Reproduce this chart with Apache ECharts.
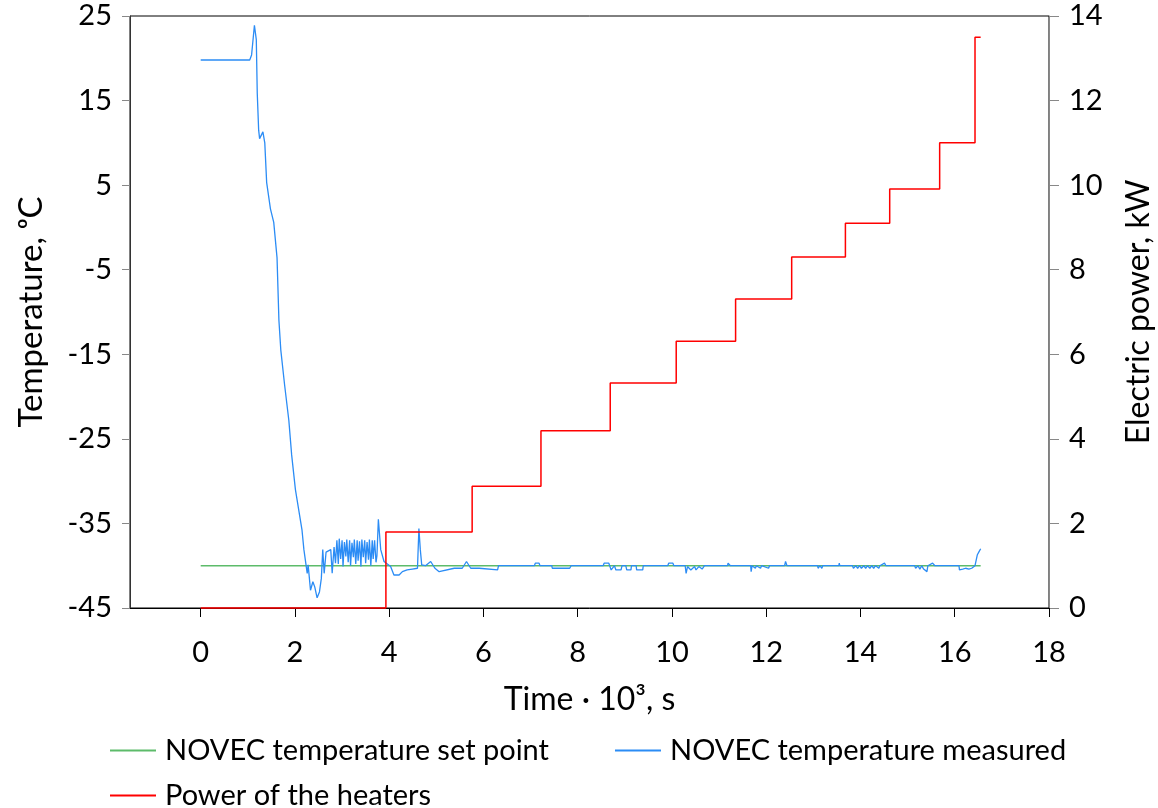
<!DOCTYPE html>
<html>
<head>
<meta charset="utf-8">
<script src="https://cdn.jsdelivr.net/npm/echarts@6/dist/echarts.min.js"></script>
<style>html,body{margin:0;padding:0;background:#fff}#c{width:1158px;height:808px}</style>
</head>
<body>
<div id="c"></div>
<script>
// ---- data ----
const xTicks = [0, 2, 4, 6, 8, 10, 12, 14, 16, 18];
const tempTicks = [-45, -35, -25, -15, -5, 5, 15, 25];

const setTime = [0, 16.55];
const setTemp = [-40, -40];

const measTime = [0, 1.04, 1.08, 1.14, 1.18, 1.20, 1.23, 1.25, 1.32, 1.36, 1.40, 1.48, 1.55, 1.62, 1.66, 1.70, 1.78, 1.87, 1.93, 2.01,
  2.08, 2.15, 2.19, 2.22, 2.26, 2.28, 2.33, 2.38, 2.42, 2.47, 2.52, 2.56, 2.59, 2.62, 2.66, 2.76, 2.79, 2.83, 2.86,
  2.89, 2.92, 2.94, 2.97, 3.00, 3.02, 3.05, 3.08, 3.10, 3.13, 3.16, 3.18, 3.21, 3.24, 3.26, 3.29, 3.32, 3.34, 3.37, 3.40,
  3.42, 3.45, 3.48, 3.50, 3.53, 3.56, 3.58, 3.61, 3.64, 3.66, 3.69, 3.72, 3.74, 3.77,
  3.82, 3.89, 3.96, 4.03, 4.10, 4.21, 4.28, 4.38, 4.49, 4.60, 4.62, 4.63, 4.66, 4.69, 4.77, 4.88, 4.97, 5.06, 5.38, 5.55,
  5.64, 5.73, 5.91, 6.30, 6.32, 7.08, 7.10, 7.18, 7.20, 7.45, 7.46, 7.83, 7.86, 8.54, 8.56, 8.66, 8.71, 8.78, 8.81, 8.92,
  8.94, 9.02, 9.04, 9.13, 9.14, 9.24, 9.25, 9.38, 9.39, 9.91, 9.93, 10.02, 10.04, 10.28, 10.30, 10.33, 10.40, 10.48, 10.51, 10.57,
  10.60, 10.64, 10.69, 11.18, 11.19, 11.22, 11.24, 11.67, 11.68, 11.70, 11.77, 11.79, 11.88, 11.90, 12.05, 12.07, 12.39, 12.41, 12.44,
  13.09, 13.10, 13.14, 13.18, 13.20, 13.54, 13.55, 13.56, 13.83, 13.85, 13.90, 13.94, 13.98, 14.02, 14.07, 14.11, 14.15, 14.20,
  14.24, 14.28, 14.32, 14.39, 14.41, 14.51, 14.54, 15.15, 15.17, 15.22, 15.26, 15.30, 15.34, 15.38, 15.41, 15.43, 15.53, 15.58,
  16.09, 16.10, 16.13, 16.17, 16.23, 16.30, 16.36, 16.43, 16.48, 16.51, 16.53, 16.55];
const measTemp = [19.8, 19.8, 20.4, 23.9, 22.2, 15.9, 11.5, 10.5, 11.3, 10.0, 5.3, 2.2, 0.6, -3.6, -11.0, -14.5, -18.6, -22.8, -26.9, -31.0,
  -33.4, -35.8, -38.1, -37.9, -40.9, -39.9, -42.9, -41.9, -42.5, -43.8, -43.1, -41.5, -38.1, -40.9, -38.4, -38.1, -40.9, -37.8, -39.7,
  -37.0, -39.8, -36.8, -39.2, -37.0, -40.1, -37.2, -38.9, -36.9, -39.6, -37.0, -40.0, -37.3, -39.0, -36.9, -39.8, -37.0, -39.4, -37.1, -40.1,
  -36.9, -39.0, -37.0, -39.7, -37.2, -39.3, -36.9, -40.0, -37.0, -39.2, -37.0, -39.6, -38.8, -34.5,
  -38.1, -39.5, -39.8, -40.1, -41.1, -41.1, -40.7, -40.5, -40.4, -40.3, -40.3, -35.6, -38.1, -39.9, -40.0, -39.5, -40.3, -40.7, -40.3, -40.3,
  -39.5, -40.3, -40.3, -40.5, -40.0, -40.0, -39.7, -39.7, -40.0, -40.0, -40.3, -40.3, -40.0, -40.0, -39.7, -39.7, -40.5, -40.0, -40.5, -40.5,
  -40.0, -40.0, -40.5, -40.5, -40.0, -40.0, -40.5, -40.5, -40.0, -40.0, -39.7, -39.7, -40.0, -40.0, -40.9, -40.1, -40.5, -40.1, -40.5, -40.1,
  -40.1, -40.4, -40.0, -40.0, -39.7, -39.7, -40.0, -40.0, -40.7, -40.0, -40.3, -40.0, -40.3, -40.0, -40.3, -40.0, -40.0, -39.5, -40.0,
  -40.0, -40.3, -40.0, -40.3, -40.0, -40.0, -39.7, -40.0, -40.0, -40.3, -40.0, -40.3, -40.0, -40.3, -40.0, -40.3, -40.0, -40.3,
  -40.0, -40.3, -40.0, -40.3, -40.0, -39.7, -40.0, -40.0, -40.3, -40.0, -40.4, -40.0, -40.4, -40.3, -40.7, -40.0, -39.7, -40.0,
  -40.0, -40.5, -40.3, -40.4, -40.3, -40.4, -40.3, -40.0, -38.7, -38.4, -38.2, -38.0];

const powerTime = [0, 3.93, 5.76, 7.22, 8.69, 10.09, 11.35, 12.54, 13.68, 14.62, 15.68, 16.43, 16.55];
const powerKW   = [0, 1.80, 2.88, 4.19, 5.32, 6.31, 7.31, 8.30, 9.10, 9.91, 11.00, 13.50, 13.50];

const zip = (a, b) => a.map((v, i) => [v, b[i]]);

const FONT = 'Lato';
const chart = echarts.init(document.getElementById('c'), null, {renderer: 'canvas'});
chart.setOption({
  animation: false,
  backgroundColor: '#fff',
  textStyle: {fontFamily: FONT, color: '#000'},
  grid: {left: 130, right: 109, top: 16, bottom: 200, show: true, borderColor: '#000', borderWidth: 1,
         containLabel: false, outerBoundsMode: 'none'},
  legend: [
    {
      data: ['NOVEC temperature set point', 'NOVEC temperature measured'],
      left: 105, top: 731, orient: 'horizontal',
      icon: 'rect', itemWidth: 46, itemHeight: 2, itemGap: 66,
      textStyle: {fontFamily: FONT, fontSize: 29, color: '#000', padding: [0, 0, 0, 4]}
    },
    {
      data: ['Power of the heaters'],
      left: 105, top: 776, orient: 'horizontal',
      icon: 'rect', itemWidth: 46, itemHeight: 2,
      textStyle: {fontFamily: FONT, fontSize: 29, color: '#000', padding: [0, 0, 0, 4]}
    }
  ],
  xAxis: {
    type: 'value', min: -1.5, max: 18,
    name: 'Time · 10³, s', nameLocation: 'middle', nameGap: 76,
    nameTextStyle: {fontFamily: FONT, fontSize: 32, color: '#000'},
    axisLine: {onZero: false, lineStyle: {color: '#000', width: 1}},
    axisTick: {show: true, length: 9, lineStyle: {color: '#000'}, customValues: xTicks},
    axisLabel: {customValues: xTicks, fontFamily: FONT, fontSize: 29, color: '#000', margin: 30},
    splitLine: {show: false}
  },
  yAxis: [
    {
      type: 'value', min: -45, max: 25, position: 'left',
      name: 'Temperature, ᵒC', nameLocation: 'middle', nameGap: 82, nameRotate: 90,
      nameTextStyle: {fontFamily: FONT, fontSize: 33, color: '#000'},
      axisLine: {show: true, onZero: false, lineStyle: {color: '#333', width: 1}},
      axisTick: {show: true, length: 8, lineStyle: {color: '#888'}, customValues: tempTicks},
      axisLabel: {customValues: tempTicks, fontFamily: FONT, fontSize: 29, color: '#000', margin: 18},
      splitLine: {show: false}
    },
    {
      type: 'value', min: 0, max: 14, interval: 2, position: 'right',
      name: 'Electric power, kW', nameLocation: 'middle', nameGap: 74, nameRotate: 90,
      nameTextStyle: {fontFamily: FONT, fontSize: 32, color: '#000'},
      axisLine: {show: true, onZero: false, lineStyle: {color: '#888', width: 1}},
      axisTick: {show: true, length: 10, lineStyle: {color: '#888'}},
      axisLabel: {fontFamily: FONT, fontSize: 29, color: '#000', margin: 20},
      splitLine: {show: false}
    }
  ],
  series: [
    {
      name: 'NOVEC temperature set point', type: 'line', yAxisIndex: 0,
      data: zip(setTime, setTemp), showSymbol: false, symbol: 'none',
      lineStyle: {color: '#5DBB6A', width: 1.5}, itemStyle: {color: '#5DBB6A'}, z: 2
    },
    {
      name: 'NOVEC temperature measured', type: 'line', yAxisIndex: 0,
      data: zip(measTime, measTemp), showSymbol: false, symbol: 'none',
      lineStyle: {color: '#2B8CF5', width: 1.3}, itemStyle: {color: '#2B8CF5'}, z: 3
    },
    {
      name: 'Power of the heaters', type: 'line', yAxisIndex: 1, step: 'end', clip: false,
      data: zip(powerTime, powerKW), showSymbol: false, symbol: 'none',
      lineStyle: {color: '#FF0000', width: 1.5}, itemStyle: {color: '#FF0000'}, z: 4
    }
  ]
});
</script>
</body>
</html>
